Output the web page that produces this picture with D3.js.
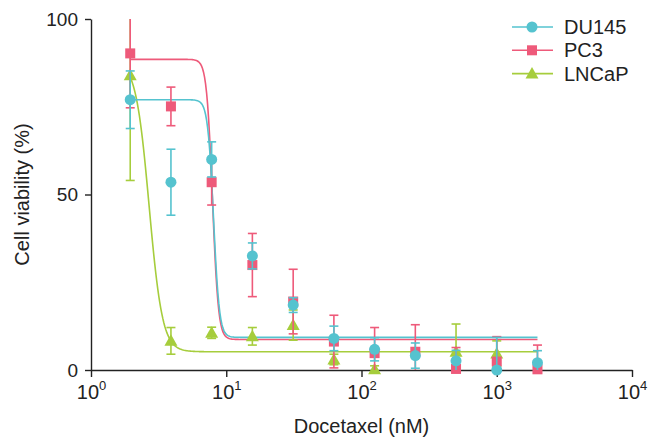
<!DOCTYPE html>
<html>
<head>
<meta charset="utf-8">
<script src="https://cdn.jsdelivr.net/npm/d3@7"></script>
<style>
  html, body { margin: 0; padding: 0; background: #ffffff; }
  svg text { font-family: "Liberation Sans", Arial, Helvetica, sans-serif; fill: #222222; }
</style>
</head>
<body>
<div id="chart"></div>
<script>
// Data
const doses = [1.95, 3.9, 7.8, 15.6, 31.25, 62.5, 125, 250, 500, 1000, 2000];

const du145Mean = [77.0, 53.5, 60.0, 32.5, 18.5, 9.0, 5.9, 4.1, 2.6, 0.0, 2.1];
const du145Err  = [8.2, 9.4, 5.0, 3.7, 2.1, 3.5, 3.3, 3.6, 3.0, 9.3, 3.4];

const pc3Mean = [90.2, 75.1, 53.5, 29.9, 19.5, 8.1, 4.8, 5.2, 0.3, 2.4, 0.2];
const pc3Err  = [15.5, 5.5, 6.5, 9.0, 9.2, 7.5, 7.3, 7.7, 6.1, 7.1, 6.9];

const lncapMean = [84.0, 8.3, 10.6, 9.6, 12.8, 3.0, 0.2, null, 5.2, 4.7, null];
const lncapErr  = [30.0, 3.8, 1.6, 2.5, 4.3, 1.5, 1.0, null, 7.9, 3.6, null];

// fitted dose-response curves: [top, bottom, logEC50, hill]
const du145Fit = [77.0, 9.3, 0.906, 20];
const pc3Fit   = [88.5, 8.7, 0.898, 20];
const lncapFit = [88.0, 5.2, 0.430, 8.8];

const seriesNames = ["DU145", "PC3", "LNCaP"];
const seriesColors = ["#55c3cf", "#ee5a7a", "#a6cd3c"];
const xTickValues = [1, 10, 100, 1000, 10000];
const yTickValues = [0, 50, 100];

// Layout
const CONFIG = {
    width: 648,
    height: 441,
    plot: { left: 91, right: 632, top: 19, bottom: 370 }
};

const svg = d3.select("#chart")
    .append("svg")
    .attr("width", CONFIG.width)
    .attr("height", CONFIG.height);

const x = d3.scaleLog().domain([1, 10000]).range([CONFIG.plot.left, CONFIG.plot.right]);
const y = d3.scaleLinear().domain([0, 100]).range([CONFIG.plot.bottom, CONFIG.plot.top]);

svg.append("clipPath")
    .attr("id", "plot-clip")
    .append("rect")
    .attr("x", CONFIG.plot.left - 10)
    .attr("y", CONFIG.plot.top)
    .attr("width", CONFIG.plot.right - CONFIG.plot.left + 20)
    .attr("height", CONFIG.plot.bottom - CONFIG.plot.top);

// Axes
const xAxis = svg.append("g")
    .attr("transform", `translate(0,${CONFIG.plot.bottom})`)
    .call(d3.axisBottom(x).tickValues(xTickValues).tickSize(7).tickSizeOuter(0).tickFormat(""));

const yAxis = svg.append("g")
    .attr("transform", `translate(${CONFIG.plot.left},0)`)
    .call(d3.axisLeft(y).tickValues(yTickValues).tickSize(6).tickSizeOuter(0).tickPadding(7));

[xAxis, yAxis].forEach(g => {
    g.selectAll("path, line").attr("stroke", "#222222").attr("stroke-width", 1.4);
});
yAxis.selectAll("text").style("font-size", "19px").attr("fill", "#222222");

// 10^n labels
xAxis.selectAll(".tick").each(function(d) {
    const t = d3.select(this).append("text")
        .attr("y", 29)
        .attr("text-anchor", "middle")
        .attr("fill", "#222222")
        .style("font-size", "20px");
    t.append("tspan").text("10");
    t.append("tspan")
        .attr("dy", -9)
        .style("font-size", "13px")
        .text(Math.round(Math.log10(d)));
});

// Axis titles
svg.append("text")
    .attr("x", (CONFIG.plot.left + CONFIG.plot.right) / 2)
    .attr("y", 433)
    .attr("text-anchor", "middle")
    .style("font-size", "20px")
    .text("Docetaxel (nM)");

svg.append("text")
    .attr("transform", `translate(29,${(CONFIG.plot.top + CONFIG.plot.bottom) / 2}) rotate(-90)`)
    .attr("text-anchor", "middle")
    .style("font-size", "20px")
    .text("Cell viability (%)");

// Fitted curves
function curvePoints(fit) {
    const [top, bottom, logEC50, hill] = fit;
    const lo = Math.log10(doses[0]), hi = Math.log10(doses[doses.length - 1]);
    return d3.range(0, 401).map(i => {
        const lx = lo + (hi - lo) * i / 400;
        return [Math.pow(10, lx), bottom + (top - bottom) / (1 + Math.pow(10, (lx - logEC50) * hill))];
    });
}

const line = d3.line().x(d => x(d[0])).y(d => y(d[1]));

const fits = [du145Fit, pc3Fit, lncapFit];
[2, 1, 0].forEach(i => {
    svg.append("path")
        .attr("d", line(curvePoints(fits[i])))
        .attr("fill", "none")
        .attr("stroke", seriesColors[i])
        .attr("stroke-width", 1.6);
});

// Markers
function drawMarker(g, shape, color, cx, cy) {
    if (shape === "circle") {
        g.append("circle").attr("cx", cx).attr("cy", cy).attr("r", 5.5).attr("fill", color);
    } else if (shape === "square") {
        g.append("rect").attr("x", cx - 5).attr("y", cy - 5).attr("width", 10).attr("height", 10).attr("fill", color);
    } else {
        g.append("path")
            .attr("d", `M${cx},${cy - 6.5}L${cx + 6.5},${cy + 5}L${cx - 6.5},${cy + 5}Z`)
            .attr("fill", color);
    }
}

const seriesData = [
    { means: du145Mean, errs: du145Err, shape: "circle" },
    { means: pc3Mean, errs: pc3Err, shape: "square" },
    { means: lncapMean, errs: lncapErr, shape: "triangle" }
];

[2, 1, 0].forEach(i => {
    const s = seriesData[i];
    const color = seriesColors[i];
    const g = svg.append("g");
    const bars = g.append("g").attr("clip-path", "url(#plot-clip)")
        .attr("stroke", color).attr("stroke-width", 1.6);
    doses.forEach((dose, j) => {
        if (s.means[j] == null) return;
        const cx = x(dose);
        const yHi = y(s.means[j] + s.errs[j]);
        const yLo = y(s.means[j] - s.errs[j]);
        bars.append("line").attr("x1", cx).attr("x2", cx).attr("y1", yHi).attr("y2", yLo);
        bars.append("line").attr("x1", cx - 4.5).attr("x2", cx + 4.5).attr("y1", yHi).attr("y2", yHi);
        bars.append("line").attr("x1", cx - 4.5).attr("x2", cx + 4.5).attr("y1", yLo).attr("y2", yLo);
        drawMarker(g, s.shape, color, cx, y(s.means[j]));
    });
});

// Legend
const legend = svg.append("g").attr("transform", "translate(512,27)");
seriesNames.forEach((name, i) => {
    const row = legend.append("g").attr("transform", `translate(0,${i * 23.3})`);
    row.append("line").attr("x1", 0).attr("x2", 41).attr("y1", 0).attr("y2", 0)
        .attr("stroke", seriesColors[i]).attr("stroke-width", 1.6);
    drawMarker(row, seriesData[i].shape, seriesColors[i], 20, 0);
    row.append("text")
        .attr("x", 52)
        .attr("y", 7)
        .style("font-size", "20px")
        .text(name);
});
</script>
</body>
</html>
